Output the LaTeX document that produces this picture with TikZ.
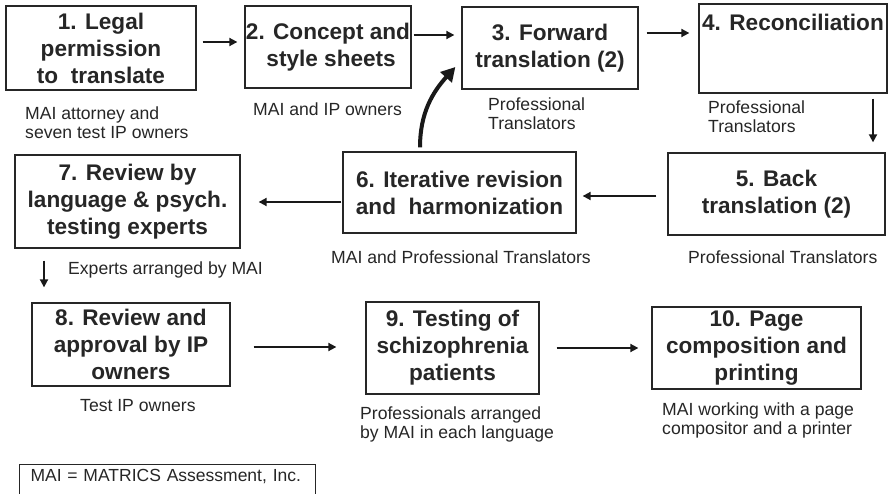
\documentclass[tikz,border=0pt]{standalone}
\usepackage{fontspec}
\setmainfont{Liberation Sans}
\usetikzlibrary{arrows.meta}

\begin{document}
\begin{tikzpicture}[x=1pt,y=1pt,
    box/.style={draw=black!85, line width=1.3pt, inner sep=0pt, align=center,
        text=black!85, font=\fontsize{22.6}{27}\selectfont\bfseries},
    note/.style={anchor=north west, inner sep=0pt, align=left, text=black!85,
        font=\fontsize{17.6}{19.5}\selectfont},
    flow/.style={line width=1.8pt, draw=black!90, -{Triangle[length=8pt,width=8pt]}},
    loop/.style={line width=4pt, draw=black!90, -{Triangle[length=14pt,width=15pt]}}]

    \useasboundingbox (0,0) rectangle (888,-494);

    % steps
    \node[box, minimum width=190, minimum height=84] (b1) at (101,-48) {1. Legal\\permission\\to\ \ translate};
    \node[box, minimum width=166, minimum height=82] (b2) at (328,-47) {2. Concept and\\\ style sheets};
    \node[box, minimum width=176, minimum height=82] (b3) at (550,-48) {3. Forward\\translation (2)};
    \node[box, minimum width=188, minimum height=89] (b4) at (793,-48.5) {};
    \node[box, draw=none, anchor=base] (t4) at ([yshift=-27pt]b4.north) {4. Reconciliation};
    \node[box, minimum width=217, minimum height=82] (b5) at (776.5,-194) {5. Back\\translation (2)};
    \node[box, minimum width=233, minimum height=81] (b6) at (459.5,-192.5) {6. Iterative revision\\and\ \ harmonization};
    \node[box, minimum width=225, minimum height=93] (b7) at (127.5,-201.5) {7. Review by\\language \& psych.\\testing experts};
    \node[box, minimum width=198, minimum height=83] (b8) at (131,-344.5) {8. Review and\\approval by IP\\owners};
    \node[box, minimum width=173, minimum height=92] (b9) at (452.5,-348) {9. Testing of\\schizophrenia\\patients};
    \node[box, minimum width=209, minimum height=82] (b10) at (756.5,-348) {10. Page\\composition and\\printing};

    % who does it
    \node[note] (n1) at (25,-106.5) {MAI attorney and\\seven test IP owners};
    \node[note] (n2) at (253,-102.5) {MAI and IP owners};
    \node[note] (n3) at (488,-97.5) {Professional\\Translators};
    \node[note] (n4) at (708,-100.5) {Professional\\Translators};
    \node[note] (n5) at (688,-250.5) {Professional Translators};
    \node[note] (n6) at (331,-250.5) {MAI and Professional Translators};
    \node[note] (n7) at (68,-261.5) {Experts arranged by MAI};
    \node[note] (n8) at (80,-399.5) {Test IP owners};
    \node[note] (n9) at (360,-406.5) {Professionals arranged\\by MAI in each language};
    \node[note] (n10) at (662,-402.5) {MAI working with a page\\compositor and a printer};

    % key
    \node[draw=black!85, line width=1pt, text width=274pt, align=left, minimum height=38,
        anchor=north west, inner xsep=11pt, inner ysep=0pt, text=black!85,
        font=\fontsize{17.5}{19}\selectfont] (key) at (19,-464)
        {MAI = MATRICS Assessment, Inc.\rule[-16pt]{0pt}{1pt}};

    % arrows
    \draw[flow] ([xshift=6pt,yshift=6pt]b1.east) -- ([xshift=-7pt,yshift=5pt]b2.west);
    \draw[flow] ([xshift=2pt,yshift=12pt]b2.east) -- ([xshift=-7pt,yshift=13pt]b3.west);
    \draw[flow] ([xshift=8pt,yshift=15pt]b3.east) -- ([xshift=-9pt,yshift=15.5pt]b4.west);
    \draw[flow] ([xshift=80pt,yshift=-5pt]b4.south) -- ([xshift=96.5pt,yshift=10pt]b5.north);
    \draw[flow] ([xshift=-11pt,yshift=-2pt]b5.west) -- ([xshift=6pt,yshift=-3.5pt]b6.east);
    \draw[flow] ([xshift=-1pt,yshift=-9.5pt]b6.west) -- ([xshift=18pt,yshift=-0.5pt]b7.east);
    \draw[flow] ([xshift=-83.5pt,yshift=-12pt]b7.south) -- ([xshift=-87pt,yshift=15pt]b8.north);
    \draw[flow] ([xshift=23pt,yshift=-2.5pt]b8.east) -- ([xshift=-29pt,yshift=1pt]b9.west);
    \draw[flow] ([xshift=17pt]b9.east) -- ([xshift=-13pt]b10.west);
    \draw[loop] ([xshift=-39.5pt,yshift=4pt]b6.north) to[out=90,in=228] ([xshift=-6pt,yshift=-19pt]b3.west);
\end{tikzpicture}
\end{document}
